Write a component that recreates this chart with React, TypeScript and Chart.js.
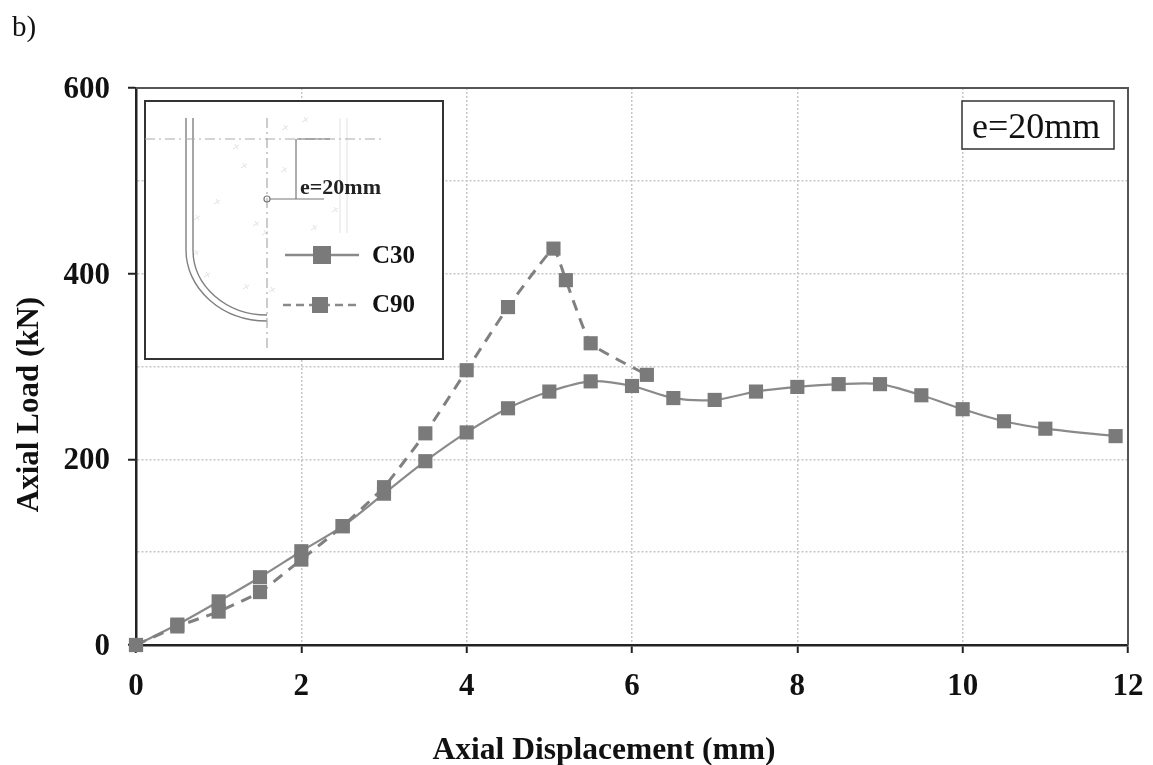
import React, { useEffect, useRef } from "react";
import { Chart, registerables } from "chart.js";

Chart.register(...registerables);

const c30X = [0, 0.5, 1, 1.5, 2, 2.5, 3, 3.5, 4, 4.5, 5, 5.5, 6, 6.5, 7, 7.5, 8, 8.5, 9, 9.5, 10, 10.5, 11, 11.85];
const c30Y = [0, 22, 47, 73, 101, 128, 163, 198, 229, 255, 273, 284, 279, 266, 264, 273, 278, 281, 281, 269, 254, 241, 233, 225];
const c90X = [0, 0.5, 1, 1.5, 2, 2.5, 3, 3.5, 4, 4.5, 5.05, 5.2, 5.5, 6.18];
const c90Y = [0, 20, 36, 57, 92, 128, 170, 228, 296, 364, 427, 393, 325, 291];
const xTicksMax = 12;
const yTicksMax = 600;
const yLabelled = [0, 200, 400, 600];
const xTitle = "Axial Displacement (mm)";
const yTitle = "Axial Load (kN)";
const panelLabel = "b)";
const eccentricity = "e=20mm";
const seriesNames = ["C30", "C90"];

const MARK = "#7a7a7a";
const SERIF = "'Liberation Serif', serif";

function toPoints(xs: number[], ys: number[]) {
  return xs.map((x, i) => ({ x, y: ys[i] }));
}

const specks = [
  [236, 147], [244, 166], [217, 202], [197, 218], [256, 224], [196, 253], [207, 275],
  [246, 287], [265, 233], [284, 170], [305, 120], [335, 210], [314, 228], [272, 290], [285, 128],
];

const decorations = {
  id: "decorations",
  afterLayout(chart: any) {
    const shift = (scale: any, dx: number, dy: number) => {
      if (scale.__shifted) return;
      scale.__shifted = true;
      const orig = scale.drawTitle.bind(scale);
      scale.drawTitle = () => {
        const c = scale.ctx;
        c.save();
        c.translate(dx, dy);
        orig();
        c.restore();
      };
    };
    shift(chart.scales.x, -28, 7);
    shift(chart.scales.y, 11, 38);
  },
  afterDraw(chart: any) {
    const { ctx, chartArea: a } = chart;
    ctx.save();
    // top and right frame
    ctx.strokeStyle = "#555";
    ctx.lineWidth = 2;
    ctx.beginPath();
    ctx.moveTo(a.left, a.top);
    ctx.lineTo(a.right, a.top);
    ctx.lineTo(a.right, a.bottom);
    ctx.stroke();

    // panel label
    ctx.fillStyle = "#111";
    ctx.textBaseline = "alphabetic";
    ctx.textAlign = "left";
    ctx.font = `29px ${SERIF}`;
    ctx.fillText(panelLabel, 12, 36);

    // e=20mm box
    ctx.fillStyle = "#fff";
    ctx.fillRect(962, 101, 152, 48);
    ctx.strokeStyle = "#333";
    ctx.lineWidth = 1.5;
    ctx.strokeRect(962, 101, 152, 48);
    ctx.fillStyle = "#111";
    ctx.font = `36px ${SERIF}`;
    ctx.fillText(eccentricity, 972, 138);

    // inset box
    ctx.fillStyle = "#fff";
    ctx.fillRect(145, 101, 298, 258);
    ctx.strokeStyle = "#333";
    ctx.lineWidth = 2;
    ctx.strokeRect(145, 101, 298, 258);

    // cross-section drawing
    ctx.strokeStyle = "#e2e2e2";
    ctx.lineWidth = 1;
    ctx.beginPath();
    ctx.moveTo(340, 118); ctx.lineTo(340, 233);
    ctx.moveTo(347, 118); ctx.lineTo(347, 233);
    ctx.stroke();

    ctx.strokeStyle = "#e2e2e2";
    specks.forEach(([x, y]) => {
      ctx.beginPath();
      ctx.moveTo(x - 3, y + 2);
      ctx.lineTo(x + 3, y - 2);
      ctx.moveTo(x - 1, y - 3);
      ctx.lineTo(x + 2, y + 2);
      ctx.stroke();
    });

    ctx.strokeStyle = "#808080";
    ctx.lineWidth = 1.4;
    ctx.beginPath();
    ctx.moveTo(186, 118); ctx.lineTo(186, 250);
    ctx.ellipse(267, 250, 81, 71, 0, Math.PI, Math.PI / 2, true);
    ctx.moveTo(193, 118); ctx.lineTo(193, 250);
    ctx.ellipse(267, 250, 74, 65, 0, Math.PI, Math.PI / 2, true);
    ctx.stroke();

    ctx.strokeStyle = "#aaa";
    ctx.lineWidth = 1.2;
    ctx.setLineDash([10, 4, 2, 4]);
    ctx.beginPath();
    ctx.moveTo(145, 139); ctx.lineTo(384, 139);
    ctx.moveTo(267, 118); ctx.lineTo(267, 348);
    ctx.stroke();
    ctx.setLineDash([]);

    ctx.strokeStyle = "#777";
    ctx.beginPath();
    ctx.moveTo(297, 139); ctx.lineTo(330, 139);
    ctx.moveTo(296, 139); ctx.lineTo(296, 199);
    ctx.moveTo(270, 199); ctx.lineTo(324, 199);
    ctx.moveTo(267 + 3, 199);
    ctx.arc(267, 199, 3, 0, Math.PI * 2);
    ctx.stroke();

    ctx.fillStyle = "#222";
    ctx.font = `bold 22px ${SERIF}`;
    ctx.fillText(eccentricity, 300, 194);

    // legend
    ctx.strokeStyle = "#8a8a8a";
    ctx.lineWidth = 2.5;
    ctx.beginPath();
    ctx.moveTo(285, 255); ctx.lineTo(359, 255);
    ctx.stroke();
    ctx.setLineDash([8, 5]);
    ctx.beginPath();
    ctx.moveTo(283, 305); ctx.lineTo(361, 305);
    ctx.stroke();
    ctx.setLineDash([]);
    ctx.fillStyle = MARK;
    ctx.fillRect(313, 246, 18, 18);
    ctx.fillRect(312, 297, 16, 16);
    ctx.fillStyle = "#111";
    ctx.font = `bold 25px ${SERIF}`;
    ctx.fillText(seriesNames[0], 372, 263);
    ctx.fillText(seriesNames[1], 372, 312);
    ctx.restore();
  },
};

export default function App() {
  const ref = useRef<HTMLCanvasElement>(null);
  useEffect(() => {
    const chart = new Chart(ref.current!, {
      type: "line",
      data: {
        datasets: [
          {
            label: seriesNames[1],
            data: toPoints(c90X, c90Y),
            borderColor: "#808080",
            backgroundColor: MARK,
            borderWidth: 3,
            borderDash: [11, 8],
            pointStyle: "rect",
            pointRadius: 10,
            pointBorderWidth: 0,
            tension: 0.12,
            clip: false,
          },
          {
            label: seriesNames[0],
            data: toPoints(c30X, c30Y),
            borderColor: "#8a8a8a",
            backgroundColor: MARK,
            borderWidth: 2.2,
            pointStyle: "rect",
            pointRadius: 10,
            pointBorderWidth: 0,
            tension: 0.3,
            clip: false,
          },
        ],
      } as any,
      options: {
        responsive: false,
        animation: false,
        layout: { padding: { left: 0, top: 88, right: 25, bottom: 0 } },
        plugins: { legend: { display: false }, title: { display: false }, tooltip: { enabled: false } },
        scales: {
          x: {
            type: "linear",
            min: 0,
            max: xTicksMax,
            afterFit: (s: any) => { s.height = 120; s.paddingRight = 0; s.paddingLeft = 0; },
            ticks: {
              stepSize: 2,
              color: "#111",
              padding: 15,
              maxRotation: 0,
              font: { family: SERIF, size: 31, weight: "bold" },
            },
            grid: {
              color: "#c6c6c6",
              lineWidth: 1.5,
              tickColor: "#222",
              tickWidth: 2,
              tickLength: 8,
              tickBorderDash: [],
            },
            border: { color: "#222", width: 2.5, dash: [2, 2] },
            title: {
              display: true,
              text: xTitle,
              color: "#111",
              padding: { top: 0, bottom: 2 },
              font: { family: SERIF, size: 31.5, weight: "bold" },
            },
          },
          y: {
            min: 0,
            max: yTicksMax,
            afterFit: (s: any) => { s.width = 136; },
            ticks: {
              stepSize: 100,
              color: "#111",
              padding: 18,
              labelOffset: 2,
              callback: (v: any) => (yLabelled.includes(Number(v)) ? String(v) : ""),
              font: { family: SERIF, size: 31, weight: "bold" },
            },
            grid: {
              color: "#c6c6c6",
              lineWidth: 1.5,
              tickColor: (c: any) => (yLabelled.includes(c.tick?.value) ? "#222" : "rgba(0,0,0,0)"),
              tickWidth: 2,
              tickLength: 8,
              tickBorderDash: [],
            },
            border: { color: "#222", width: 2.5, dash: [2, 2] },
            title: {
              display: true,
              text: yTitle,
              color: "#111",
              padding: { top: 0, bottom: 0 },
              font: { family: SERIF, size: 31, weight: "bold" },
            },
          },
        },
      } as any,
      plugins: [decorations],
    });
    return () => chart.destroy();
  }, []);
  return (
    <div style={{ position: "absolute", left: 0, top: 0, width: 1153, height: 765, background: "#fff" }}>
      <canvas ref={ref} width={1153} height={765} style={{ display: "block" }} />
    </div>
  );
}
